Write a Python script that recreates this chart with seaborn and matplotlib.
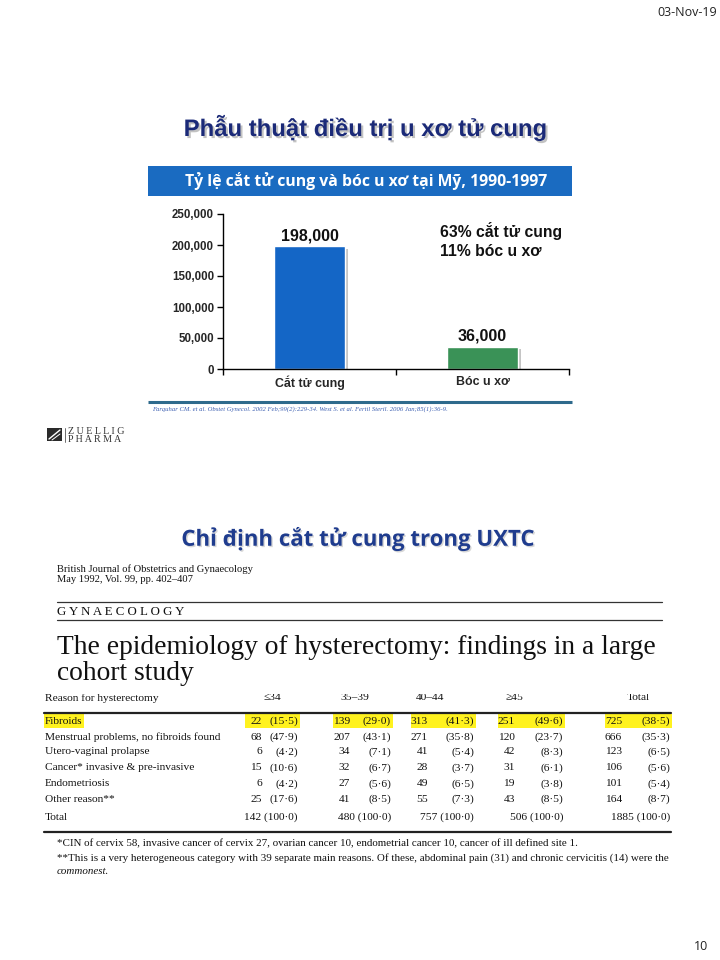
import matplotlib
matplotlib.use("Agg")
import matplotlib.pyplot as plt
import matplotlib.patheffects as pe
from matplotlib.patches import Rectangle
import seaborn as sns

# --- data ---
categories = ["Cắt tử cung", "Bóc u xơ"]
counts = [198000, 36000]
bar_colors = ["#1466C6", "#3A9257"]
y_ticks = [0, 50000, 100000, 150000, 200000, 250000]
share_notes = ["63% cắt tử cung", "11% bóc u xơ"]

age_groups = ["≤34", "35–39", "40–44", "≥45", "Total"]
reasons = ["Fibroids", "Menstrual problems, no fibroids found", "Utero-vaginal prolapse",
           "Cancer* invasive & pre-invasive", "Endometriosis", "Other reason**"]
n_34 = [22, 68, 6, 15, 6, 25]
n_35 = [139, 207, 34, 32, 27, 41]
n_40 = [313, 271, 41, 28, 49, 55]
n_45 = [251, 120, 42, 31, 19, 43]
n_tot = [725, 666, 123, 106, 101, 164]
p_34 = ["15·5", "47·9", "4·2", "10·6", "4·2", "17·6"]
p_35 = ["29·0", "43·1", "7·1", "6·7", "5·6", "8·5"]
p_40 = ["41·3", "35·8", "5·4", "3·7", "6·5", "7·3"]
p_45 = ["49·6", "23·7", "8·3", "6·1", "3·8", "8·5"]
p_tot = ["38·5", "35·3", "6·5", "5·6", "5·4", "8·7"]
col_totals = [142, 480, 757, 506, 1885]

sns.set_theme(style="white")
plt.rcParams["font.family"] = ["Liberation Sans", "DejaVu Sans"]

fig = plt.figure(figsize=(7.2, 9.6), dpi=100)

# full-page overlay in pixel coordinates for slide text
page = fig.add_axes([0, 0, 1, 1], zorder=0)
page.set_xlim(0, 720)
page.set_ylim(960, 0)
page.axis("off")

serif = ["Liberation Serif", "DejaVu Serif"]
calibri = ["Open Sans", "DejaVu Sans"]

page.text(687, 13, "03-Nov-19", fontsize=9, family=calibri, ha="center", va="center", color="#222222")
page.text(701, 946, "10", fontsize=9, family=calibri, ha="center", va="center", color="#222222")

# slide 1 title
page.text(365, 128, "Phẫu thuật điều trị u xơ tử cung", fontsize=17.2, fontweight="bold",
          color="#1B2A78", ha="center", va="center",
          path_effects=[pe.withSimplePatchShadow(offset=(1.5, -1.5), shadow_rgbFace="#9A9A9A", alpha=0.6)])

# header band
page.add_patch(Rectangle((148, 166), 424, 30, facecolor="#1A6BC1", edgecolor="none"))
page.text(366, 181, "Tỷ lệ cắt tử cung và bóc u xơ tại Mỹ, 1990-1997", fontsize=11.3, fontweight="bold",
          family=calibri, color="white", ha="center", va="center")

# bottom rule and citation
page.plot([148, 572], [402, 402], color="#2E6A8C", lw=2.2, solid_capstyle="butt")
page.text(152, 409, "Farquhar CM. et al. Obstet Gynecol. 2002 Feb;99(2):229-34. West S. et al. Fertil Steril. 2006 Jan;85(1):36-9.",
          fontsize=4.8, family=serif, style="italic", color="#3A5DB0", ha="left", va="center")

# logo
page.add_patch(Rectangle((47, 428), 15, 13, facecolor="#2A2A2A", edgecolor="none"))
page.plot([49, 60], [439, 430], color="white", lw=1)
page.plot([52, 60], [440, 434], color="white", lw=0.7)
page.plot([65, 65], [428, 442], color="#555555", lw=0.6)
page.text(68, 431, "Z U E L L I G", fontsize=7.2, family=serif, color="#333333", ha="left", va="center")
page.text(68, 440, "P H A R M A", fontsize=7.2, family=serif, color="#333333", ha="left", va="center")

# bar chart
ax = fig.add_axes([223 / 720, 1 - 369 / 960, 346 / 720, 155 / 960], zorder=2)
sns.barplot(x=categories, y=counts, hue=categories, palette=bar_colors, legend=False,
            width=0.41, saturation=1, ax=ax)
for bar in ax.patches:
    bar.set_path_effects([pe.SimplePatchShadow(offset=(2, -2), shadow_rgbFace="#7F7F7F", alpha=0.45), pe.Normal()])
ax.set_xlim(-0.5, 1.5)
ax.set_ylim(0, 250000)
ax.set_yticks(y_ticks)
ax.set_yticklabels([f"{t:,}" for t in y_ticks], fontsize=8.3, fontweight="bold")
ax.set_xticks(range(len(categories)))
ax.set_xticklabels(categories, fontsize=8.9, fontweight="bold")
ax.set_xticks([-0.5, 0.5, 1.5], minor=True)
ax.tick_params(axis="x", which="major", length=0, pad=5)
ax.tick_params(axis="x", which="minor", length=4, width=1, color="black", direction="out", bottom=True)
ax.tick_params(axis="y", length=4, width=1, color="black", direction="out", left=True, pad=2.5)
ax.set_xlabel("")
ax.set_ylabel("")
ax.patch.set_alpha(0)
for side in ["top", "right"]:
    ax.spines[side].set_visible(False)
for side in ["left", "bottom"]:
    ax.spines[side].set_color("black")
    ax.spines[side].set_linewidth(1)
for i, v in enumerate(counts):
    ax.text(i, v + 17000, f"{v:,}", ha="center", va="center", fontsize=11.5, fontweight="bold", color="#111111")
ax.text(0.627, 0.89, share_notes[0], transform=ax.transAxes, ha="left", va="center",
        fontsize=11.3, fontweight="bold", color="#111111")
ax.text(0.627, 0.76, share_notes[1], transform=ax.transAxes, ha="left", va="center",
        fontsize=11.3, fontweight="bold", color="#111111")

# slide 2 title
page.text(358, 539, "Chỉ định cắt tử cung trong UXTC", fontsize=16, fontweight="bold", family=calibri,
          color="#1F3C8E", ha="center", va="center",
          path_effects=[pe.withSimplePatchShadow(offset=(1, -1), shadow_rgbFace="#B0B0B0", alpha=0.5)])

# journal header
page.text(57, 569, "British Journal of Obstetrics and Gynaecology", fontsize=7.6, family=serif, ha="left", va="center", color="#111111")
page.text(57, 580, "May 1992, Vol. 99, pp. 402–407", fontsize=7.6, family=serif, ha="left", va="center", color="#111111")
page.plot([57, 662], [602, 602], color="#333333", lw=0.9)
page.text(57, 612, "G Y N A E C O L O G Y", fontsize=9.3, family=serif, ha="left", va="center", color="#111111")
page.plot([57, 662], [620, 620], color="#333333", lw=0.9)
page.text(57, 648, "The epidemiology of hysterectomy: findings in a large", fontsize=19.8, family=serif,
          ha="left", va="center", color="#111111")
page.text(57, 673, "cohort study", fontsize=19.8, family=serif, ha="left", va="center", color="#111111")

# table
n_right = [262, 350, 428, 515, 622]
p_right = [298, 391, 474, 563, 670]
head_x = [272, 355, 430, 514, 638]
row_y = [721, 737, 752, 768, 784, 799]
tsize = 8.2

page.text(45, 698, "Reason for hysterectomy", fontsize=tsize, family=serif, ha="left", va="center", color="#111111")
for x, g in zip(head_x, age_groups):
    page.text(x, 698, g, fontsize=tsize, family=serif, ha="center", va="center", color="#111111")
page.add_patch(Rectangle((40, 686), 640, 7.5, facecolor="white", edgecolor="none", zorder=5))
page.plot([44, 671], [713, 713], color="#222222", lw=1.6)

# highlight fibroid row
page.add_patch(Rectangle((44, 714), 40, 14, facecolor="#FFF21F", edgecolor="none", zorder=0))
for nr, pr in zip(n_right, p_right):
    page.add_patch(Rectangle((nr - 17, 714), pr - nr + 19, 14, facecolor="#FFF21F", edgecolor="none", zorder=0))

cols_n = [n_34, n_35, n_40, n_45, n_tot]
cols_p = [p_34, p_35, p_40, p_45, p_tot]
for r, (reason, y) in enumerate(zip(reasons, row_y)):
    page.text(45, y, reason, fontsize=tsize, family=serif, ha="left", va="center", color="#111111", zorder=2)
    for c in range(5):
        page.text(n_right[c], y, str(cols_n[c][r]), fontsize=tsize, family=serif, ha="right", va="center",
                  color="#111111", zorder=2)
        page.text(p_right[c], y, f"({cols_p[c][r]})", fontsize=tsize, family=serif, ha="right", va="center",
                  color="#111111", zorder=2)

page.text(45, 817, "Total", fontsize=tsize, family=serif, ha="left", va="center", color="#111111")
for c, tot in enumerate(col_totals):
    page.text(p_right[c], 817, f"{tot} (100·0)", fontsize=tsize, family=serif, ha="right", va="center", color="#111111")
page.plot([44, 671], [832, 832], color="#222222", lw=1.6)

page.text(57, 844, "*CIN of cervix 58, invasive cancer of cervix 27, ovarian cancer 10, endometrial cancer 10, cancer of ill defined site 1.",
          fontsize=7.9, family=serif, ha="left", va="center", color="#111111")
page.text(57, 858, "**This is a very heterogeneous category with 39 separate main reasons. Of these, abdominal pain (31) and chronic cervicitis (14) were the",
          fontsize=7.9, family=serif, ha="left", va="center", color="#111111")
page.text(57, 872, "commonest.", fontsize=7.9, family=serif, style="italic", ha="left", va="center", color="#111111")

fig.savefig("out.png", dpi=100)
